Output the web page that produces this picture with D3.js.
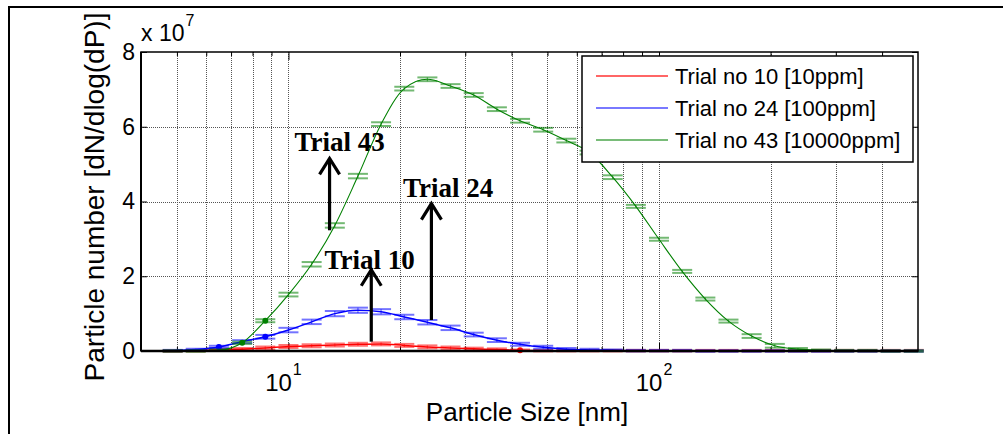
<!DOCTYPE html>
<html><head><meta charset="utf-8">
<script src="https://cdn.jsdelivr.net/npm/d3@7"></script>
<style>body{margin:0;background:#fff} svg{display:block}</style>
</head><body><svg id="c" width="1003" height="434"></svg>
<script>
// Particle diameters [nm]
const sizes = [4.87,5.62,6.49,7.50,8.66,10.0,11.55,13.34,15.40,17.78,20.54,23.71,27.38,31.62,36.52,42.17,48.70,56.23,64.94,74.99,86.60,100,115.5,133.4,154.0,177.8,205.4,237.1,273.8,316.2,365.2,421.7,487.0];
// Particle number, units of 1e7
const trial10 = [0.00,0.01,0.03,0.05,0.08,0.12,0.14,0.16,0.18,0.19,0.15,0.11,0.08,0.06,0.04,0.02,0.01,0.01,0.01,0.01,0.01,0.01,0.01,0.01,0.01,0.01,0.01,0.01,0.01,0.01,0.01,0.01,0.01];
const trial24 = [0.01,0.04,0.11,0.25,0.38,0.56,0.78,1.00,1.09,1.05,0.91,0.77,0.62,0.44,0.29,0.18,0.10,0.05,0.03,0.02,0.01,0.01,0.01,0.00,0.00,0.00,0.00,0.00,0.00,0.00,0.00,0.00,0.00];
const trial43 = [0.00,0.00,0.02,0.22,0.81,1.51,2.32,3.36,4.68,6.07,7.02,7.27,7.09,6.85,6.47,6.16,5.92,5.63,5.31,4.65,3.87,2.99,2.13,1.39,0.80,0.40,0.14,0.05,0.02,0.01,0.01,0.00,0.00];
// error half-widths, units of 1e7
const err10 = [0.02,0.02,0.03,0.03,0.04,0.04,0.04,0.04,0.04,0.04,0.04,0.04,0.04,0.03,0.03,0.02,0.02,0.02,0.02,0.02,0.02,0.02,0.02,0.02,0.02,0.02,0.02,0.02,0.02,0.02,0.02,0.02,0.02];
const err24 = [0.02,0.02,0.03,0.04,0.05,0.06,0.06,0.07,0.07,0.07,0.06,0.06,0.06,0.05,0.05,0.04,0.04,0.03,0.03,0.02,0.02,0.02,0.02,0.02,0.02,0.02,0.02,0.02,0.02,0.02,0.02,0.02,0.02];
const err43 = [0.02,0.02,0.02,0.03,0.04,0.05,0.06,0.06,0.06,0.05,0.05,0.05,0.05,0.05,0.05,0.05,0.05,0.05,0.05,0.05,0.04,0.04,0.04,0.04,0.04,0.05,0.05,0.03,0.02,0.02,0.02,0.02,0.02];
const dots10 = [42.17];
const dots24 = [6.49, 8.66];
const dots43 = [7.50, 8.66];
const seriesNames = ["Trial no 10 [10ppm]","Trial no 24 [100ppm]","Trial no 43 [10000ppm]"];
const seriesColors = ["#ff0000","#0000ff","#008000"];
const legendColors = ["#ff3333","#4d4dff","#4da64d"];
const xTicks = [5,6,7,8,9,10,20,30,40,50,60,70,80,90,100,200,300,400];
const xMajor = [10,100];
const yTicks = [0,2,4,6,8];
const annotations = [
  {label:"Trial 43", lx:10.38, ly:5.36, ax:12.91, y0:3.23, y1:5.18},
  {label:"Trial 24", lx:20.37, ly:4.13, ax:24.31, y0:0.83, y1:3.97},
  {label:"Trial 10", lx:12.51, ly:2.205, ax:16.73, y0:0.25, y1:2.20}
];

const svg = d3.select("#c");
const m = {l:141, t:52, r:918, b:351};
const x = d3.scaleLog().domain([4,500]).range([m.l, m.r]);
const y = d3.scaleLinear().domain([0,8]).range([m.b, m.t]);
const sans = "'Liberation Sans', Arial, sans-serif";

// figure border
svg.append("path").attr("d","M9,434V7H1003").attr("fill","none").attr("stroke","#000").attr("stroke-width",2);

// grid
const grid = svg.append("g").attr("stroke","#555").attr("stroke-width",1).attr("stroke-dasharray","1,1");
grid.selectAll("line.v").data(xTicks).enter().append("line")
  .attr("x1",d=>Math.round(x(d))+0.5).attr("x2",d=>Math.round(x(d))+0.5).attr("y1",m.t).attr("y2",m.b);
grid.selectAll("line.h").data(yTicks.slice(1,-1)).enter().append("line")
  .attr("y1",d=>Math.round(y(d))+0.5).attr("y2",d=>Math.round(y(d))+0.5).attr("x1",m.l).attr("x2",m.r);

// ticks
function tickAxis(gen, vals, size, tx, ty){
  const g = svg.append("g").attr("transform",`translate(${tx},${ty})`)
    .call(gen.tickValues(vals).tickSize(size).tickFormat(""));
  g.select(".domain").remove();
  g.selectAll("line").attr("stroke","#000");
  return g;
}
const xMinor = xTicks.filter(d=>!xMajor.includes(d));
tickAxis(d3.axisBottom(x), xMinor, -4, 0, m.b);
tickAxis(d3.axisBottom(x), xMajor, -8, 0, m.b);
tickAxis(d3.axisTop(x), xMinor, -4, 0, m.t);
tickAxis(d3.axisTop(x), xMajor, -8, 0, m.t);
tickAxis(d3.axisLeft(y), yTicks, -6, m.l, 0);
tickAxis(d3.axisRight(y), yTicks, -6, m.r, 0);

// y tick labels
const yl = svg.append("g").attr("transform",`translate(${m.l},0)`)
  .call(d3.axisLeft(y).tickValues(yTicks).tickSize(0).tickPadding(6).tickFormat(d3.format("d")));
yl.select(".domain").remove();
yl.selectAll("text").attr("font-family",sans).attr("font-size",23).attr("fill","#000");

// x tick labels 10^n
xMajor.forEach(v=>{
  const t = svg.append("text").attr("x",x(v)-5).attr("y",391).attr("text-anchor","middle")
    .attr("font-family",sans).attr("font-size",24).attr("fill","#000");
  t.append("tspan").text("10");
  t.append("tspan").attr("dx",1).attr("dy",-16).attr("font-size",16).text(String(Math.round(Math.log10(v))));
});

// multiplier
const mul = svg.append("text").attr("x",m.l).attr("y",41).attr("font-family",sans).attr("font-size",23).attr("fill","#000");
mul.append("tspan").text("x 10");
mul.append("tspan").attr("dx",1).attr("dy",-15).attr("font-size",16).text("7");

// axis labels
svg.append("text").attr("x",527).attr("y",421).attr("text-anchor","middle")
  .attr("font-family",sans).attr("font-size",26).attr("fill","#000").text("Particle Size [nm]");
svg.append("text").attr("transform","translate(104,197) rotate(-90)").attr("text-anchor","middle")
  .attr("font-family",sans).attr("font-size",28).attr("fill","#000").text("Particle number [dN/dlog(dP)]");

// series
const series = [
  {vals:trial10, err:err10, dots:dots10, color:seriesColors[0], w:1.5},
  {vals:trial24, err:err24, dots:dots24, color:seriesColors[1], w:1.5},
  {vals:trial43, err:err43, dots:dots43, color:seriesColors[2], w:1.1}
];
const plot = svg.append("g");
series.forEach(s=>{
  const pts = sizes.map((d,i)=>({d, v:s.vals[i], e:s.err[i]}));
  const eb = plot.append("g").attr("stroke",s.color).attr("stroke-opacity",0.55).attr("stroke-width",2);
  pts.forEach(p=>{
    const cx = x(p.d);
    [p.v+p.e, p.v-p.e].forEach(v=>{
      eb.append("line").attr("x1",cx-10).attr("x2",cx+10).attr("y1",y(v)).attr("y2",y(v));
    });
    eb.append("line").attr("x1",cx).attr("x2",cx).attr("y1",y(p.v+p.e)).attr("y2",y(p.v-p.e)).attr("stroke-width",1.2);
  });
  plot.append("path").datum(pts)
    .attr("d", d3.line().x(p=>x(p.d)).y(p=>y(p.v)).curve(d3.curveMonotoneX))
    .attr("fill","none").attr("stroke",s.color).attr("stroke-width",s.w);
  plot.selectAll(null).data(s.dots).enter().append("circle")
    .attr("cx",d=>x(d)).attr("cy",d=>y(s.vals[sizes.indexOf(d)])).attr("r",3).attr("fill",s.color);
});

// axes box
svg.append("rect").attr("x",m.l).attr("y",m.t).attr("width",m.r-m.l).attr("height",m.b-m.t)
  .attr("fill","none").attr("stroke","#000").attr("stroke-width",1.5);
svg.append("line").attr("x1",m.l).attr("x2",m.r).attr("y1",m.b).attr("y2",m.b).attr("stroke","#000").attr("stroke-width",2.5);
svg.append("line").attr("x1",m.l).attr("x2",m.l).attr("y1",m.t).attr("y2",m.b).attr("stroke","#000").attr("stroke-width",2);

// annotations
annotations.forEach(a=>{
  svg.append("text").attr("x",x(a.lx)).attr("y",y(a.ly))
    .attr("font-family","'Liberation Serif','Times New Roman',serif").attr("font-weight","bold")
    .attr("font-size",27).attr("fill","#000").text(a.label);
  const ax = x(a.ax), yt = y(a.y1), yb = y(a.y0);
  svg.append("line").attr("x1",ax).attr("x2",ax).attr("y1",yb).attr("y2",yt+1)
    .attr("stroke","#000").attr("stroke-width",3.2);
  svg.append("path").attr("d",`M${ax-10},${yt+17}L${ax},${yt+1}L${ax+10},${yt+17}`)
    .attr("fill","none").attr("stroke","#000").attr("stroke-width",3.2);
});

// legend
const lg = svg.append("g");
lg.append("rect").attr("x",582).attr("y",56).attr("width",331).attr("height",106)
  .attr("fill","#fff").attr("stroke","#000").attr("stroke-width",1.5);
seriesNames.forEach((n,i)=>{
  const yy = 76 + i*32;
  lg.append("line").attr("x1",596).attr("x2",668).attr("y1",yy).attr("y2",yy)
    .attr("stroke",legendColors[i]).attr("stroke-width",1.5);
  lg.append("text").attr("x",675).attr("y",yy+8).attr("font-family",sans).attr("font-size",22)
    .attr("fill","#000").text(n);
});
</script></body></html>
